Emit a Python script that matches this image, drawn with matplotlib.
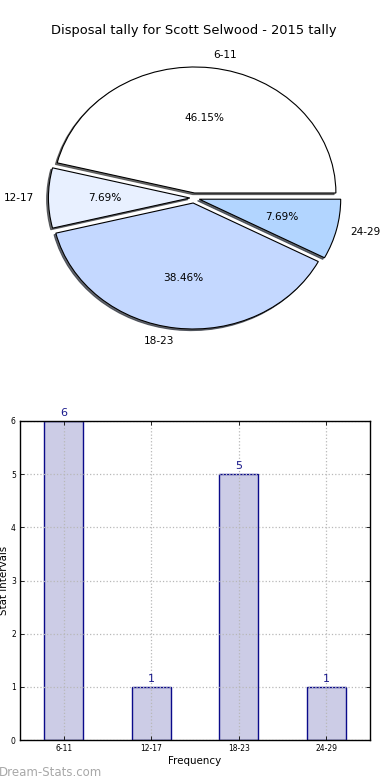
import matplotlib
matplotlib.use("Agg")
import matplotlib.pyplot as plt

categories = ["6-11", "12-17", "18-23", "24-29"]
counts = [6, 1, 5, 1]
pie_colors = ["#FFFFFF", "#E8F0FF", "#C4D8FF", "#B2D5FF"]
explode = [0.04, 0.028, 0.04, 0.04]
title = "Disposal tally for Scott Selwood - 2015 tally"

W, H = 390, 780
fig = plt.figure(figsize=(W / 100, H / 100), dpi=100)

# ---- Pie (elliptical, as in old matplotlib) ----
cx, cy, rx, ry = 193.8, 198.0, 141.4, 126.0
axw, axh = 2.5 * rx, 2.5 * ry
ax1 = fig.add_axes([(cx - axw / 2) / W, 1 - (cy + axh / 2) / H, axw / W, axh / H])
wedges, texts, autotexts = ax1.pie(
    counts, labels=categories, colors=pie_colors, explode=explode,
    autopct="%1.2f%%",
    shadow=dict(ox=-0.009, oy=-0.009, shade=0.75, alpha=0.75),
    startangle=0, labeldistance=1.1,
    pctdistance=0.6, wedgeprops=dict(edgecolor="black", linewidth=0.8),
    textprops=dict(fontsize=7.6))
ax1.set_aspect("auto")
ax1.set_xlim(-1.25, 1.25)
ax1.set_ylim(-1.25, 1.25)
ax1.set_title(title, fontsize=9.4, pad=4.5)

# ---- Bar chart ----
ax2 = fig.add_axes([20 / W, 1 - 740 / H, 350 / W, 319 / H])
x = list(range(len(categories)))
bars = ax2.bar(x, counts, width=0.45, color="#CCCCE6", edgecolor="#0A0A8A",
               linewidth=1.0, zorder=1)
ax2.bar_label(bars, labels=[str(c) for c in counts], padding=2,
              color="#1A1A8C", fontsize=8)
ax2.set_xlim(-0.5, 3.5)
ax2.set_ylim(0, 6)
ax2.set_xticks(x)
ax2.set_xticklabels(categories)
ax2.set_yticks(range(0, 7))
ax2.tick_params(direction="in", top=True, right=True, labelsize=5.5,
                length=3, width=0.6, pad=3)
ax2.grid(True, linestyle=":", color="#B8B8B8", linewidth=0.9)
ax2.set_axisbelow(False)
for s in ax2.spines.values():
    s.set_linewidth(1.0)
    s.set_zorder(4)
ax2.set_xlabel("Frequency", fontsize=7.4, labelpad=2)
ax2.set_ylabel("Stat Intervals", fontsize=7.4)
ax2.yaxis.set_label_coords(-0.030, 0.5)

fig.text(-0.003, (H - 775.5) / H, "Dream-Stats.com", fontsize=8.5,
         color="#A8A8A8", ha="left", va="baseline")

fig.savefig("out.png", dpi=100)
